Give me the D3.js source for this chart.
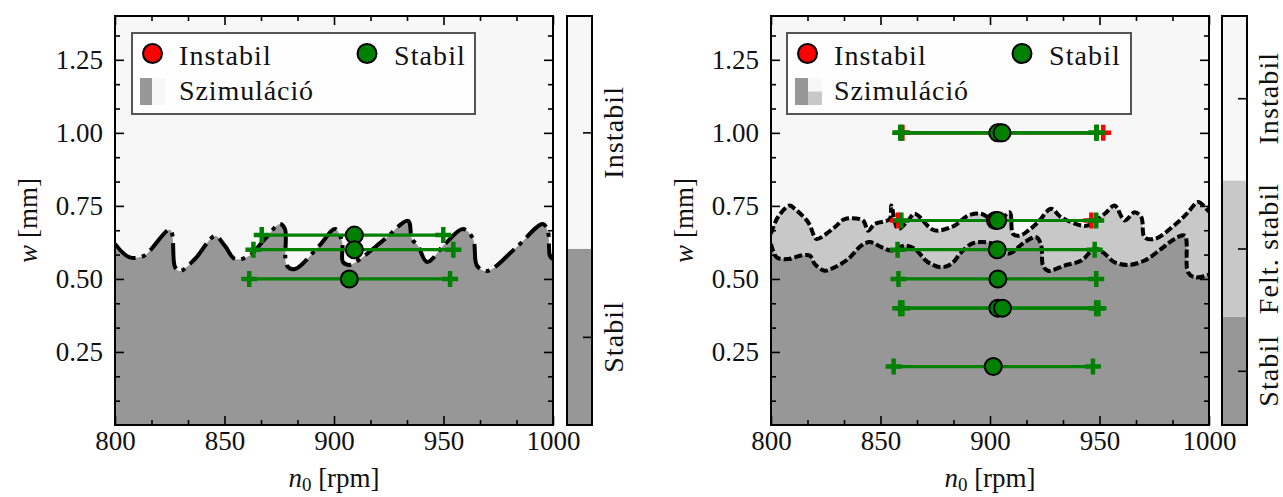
<!DOCTYPE html>
<html><head><meta charset="utf-8">
<script src="https://cdn.jsdelivr.net/npm/d3@7"></script>
<style>
body{margin:0;background:#fff}
svg text{font-family:"Liberation Serif","Tinos","Times New Roman","Noto Serif","DejaVu Serif","FreeSerif","Nimbus Roman","Times",serif;fill:#111}
</style></head>
<body><svg id="c" width="1283" height="497"></svg>
<script>
// ---------------- data ----------------
const xTicks = [800, 850, 900, 950, 1000];
const yTicks = [0.25, 0.50, 0.75, 1.00, 1.25];
const xDomain = [800, 1000];
const yDomain = [0, 1.4];

// left panel: stability boundary (rpm, w)
const leftBoundary = [[800,0.62],[806.4,0.575],[813.2,0.579],[825.1,0.668],[827.4,0.541],[829.7,0.527],[836.5,0.568],[845.7,0.647],[850.2,0.613],[854.8,0.568],[861.2,0.579],[868.5,0.637],[875.3,0.688],[877.6,0.671],[878.5,0.545],[882.2,0.534],[893.2,0.613],[900.5,0.671],[903.7,0.627],[904.1,0.558],[907.3,0.548],[911.9,0.568],[923.3,0.637],[933.8,0.699],[935.6,0.637],[938.4,0.613],[942.5,0.558],[950.7,0.620],[958.9,0.671],[963.5,0.637],[965.3,0.545],[969.9,0.527],[982.6,0.603],[995.4,0.688],[997.7,0.661],[998.6,0.579],[1000,0.568]];

// right panel: upper (instabil / felt. stabil) and lower (felt. stabil / stabil) boundaries
const rightUpper = [[800,0.655],[803.2,0.712],[808.5,0.751],[810.8,0.740],[816.9,0.695],[820.7,0.637],[823.0,0.643],[829.1,0.677],[833.7,0.705],[842.0,0.700],[844.3,0.665],[847.4,0.688],[854.2,0.705],[854.9,0.751],[858.0,0.671],[862.6,0.700],[865.6,0.723],[873.2,0.671],[876.3,0.665],[883.9,0.683],[890.0,0.717],[896.0,0.723],[901.4,0.700],[904.4,0.700],[909.0,0.728],[910.5,0.654],[913.6,0.648],[917.4,0.665],[921.9,0.694],[927.9,0.740],[932.4,0.711],[941.6,0.683],[944.7,0.683],[952.4,0.723],[956.9,0.751],[961.5,0.700],[966.1,0.728],[969.1,0.711],[970.6,0.643],[975.2,0.637],[985.8,0.694],[990.4,0.728],[995.0,0.763],[998.8,0.740],[1000,0.73]];
const rightLower = [[800,0.62],[802.6,0.574],[807.8,0.568],[813.8,0.580],[817.7,0.580],[820.0,0.551],[824.5,0.528],[829.1,0.540],[835.2,0.568],[841.2,0.614],[845.1,0.626],[850.4,0.609],[854.9,0.597],[861.1,0.614],[865.6,0.603],[871.7,0.557],[877.8,0.540],[882.3,0.551],[886.9,0.591],[891.5,0.620],[896.0,0.626],[901.4,0.620],[908.2,0.586],[915.8,0.626],[921.1,0.643],[923.4,0.614],[924.2,0.546],[926.5,0.528],[934.1,0.546],[941.7,0.563],[947.8,0.603],[951.6,0.591],[956.9,0.557],[963.0,0.548],[970.6,0.563],[978.2,0.603],[984.3,0.637],[988.9,0.648],[990.4,0.523],[993.4,0.506],[998.8,0.511],[1000,0.515]];

// measurements: [w, n_mean, n_min, n_max]
const leftStabil = [[0.65,909.3,867.0,949.9],[0.60,909.3,863.2,954.5],[0.50,907.0,861.3,953.0]];
const leftInstabil = [];
const rightStabil = [[1.00,903.5,859.0,948.5],[1.00,905.5,859.5,948.8],[0.70,903.5,859.5,948.5],[0.60,903.3,857.8,947.8],[0.50,903.6,858.2,948.5],[0.40,903.6,859.0,948.5],[0.40,905.7,860.0,949.5],[0.20,901.5,856.0,947.0]];
const rightInstabil = [[1.00,904.5,860.0,951.7],[0.70,902.5,858.0,946.3]];

// colorbars: band edges (fraction of bar height, bottom->top) and labels
const leftCbEdges = [0, 0.431, 1];
const leftCbLabels = ["Stabil", "Instabil"];
const rightCbEdges = [0, 0.265, 0.598, 1];
const rightCbLabels = ["Stabil", "Felt. stabil", "Instabil"];

const legendLabels = ["Instabil", "Stabil", "Szimuláció"];

// ---------------- style ----------------
const C = {instabil:"#f7f7f7", felt:"#c8c8c8", stabil:"#979797", green:"#008000", red:"#ff0000"};
const PT = 16, PB = 425;
const FS = 27;

const svg = d3.select("#c");

function panel(x0, x1, opts) {
  const x = d3.scaleLinear().domain(xDomain).range([x0, x1]);
  const y = d3.scaleLinear().domain(yDomain).range([PB, PT]);
  const g = svg.append("g");
  const clipId = "clip" + x0;
  svg.append("clipPath").attr("id", clipId).append("rect")
    .attr("x", x0).attr("y", PT).attr("width", x1 - x0).attr("height", PB - PT);
  const pg = g.append("g").attr("clip-path", `url(#${clipId})`);
  pg.append("rect").attr("x", x0).attr("y", PT).attr("width", x1 - x0).attr("height", PB - PT).attr("fill", C.instabil);

  const curve = d3.curveCatmullRom.alpha(0.5);
  const area = d3.area().x(d => x(d[0])).y0(y(yDomain[0]) + 5).y1(d => y(d[1])).curve(curve);
  const line = d3.line().x(d => x(d[0])).y(d => y(d[1])).curve(curve);

  opts.fills.forEach(f => pg.append("path").datum(f.data).attr("d", area).attr("fill", f.color));
  opts.lines.forEach(l => pg.append("path").datum(l.data).attr("d", line)
    .attr("fill", "none").attr("stroke", "#000").attr("stroke-width", 4)
    .attr("stroke-dasharray", l.dash));

  function drawPts(pts, color) {
    const eg = pg.append("g");
    pts.forEach(p => {
      const yy = y(p[0]);
      eg.append("line").attr("x1", x(p[2])).attr("x2", x(p[3])).attr("y1", yy).attr("y2", yy)
        .attr("stroke", color).attr("stroke-width", 3.2);
      [p[2], p[3]].forEach(v => {
        const cx = x(v), s = 8;
        eg.append("path").attr("d", `M${cx - s},${yy}H${cx + s}M${cx},${yy - s}V${yy + s}`)
          .attr("stroke", color).attr("stroke-width", 4.5).attr("fill", "none");
      });
    });
  }
  drawPts(opts.instabil, C.red);
  drawPts(opts.stabil, C.green);
  opts.instabil.forEach(p => pg.append("circle").attr("cx", x(p[1])).attr("cy", y(p[0])).attr("r", 8.5)
    .attr("fill", C.red).attr("stroke", "#000").attr("stroke-width", 2));
  opts.stabil.forEach(p => pg.append("circle").attr("cx", x(p[1])).attr("cy", y(p[0])).attr("r", 8.5)
    .attr("fill", C.green).attr("stroke", "#000").attr("stroke-width", 2));

  const xMinor = d3.range(0, 13).map(i => 800 + i * 50 / 3).filter(v => !xTicks.some(t => Math.abs(t - v) < 1e-6));
  const yMinor = d3.range(1, 17).map(i => i * 0.25 / 3).filter(v => !yTicks.some(t => Math.abs(t - v) < 1e-6));
  const ax = g.append("g").attr("class", "axes");
  const fmtY = d3.format(".2f");
  ax.append("g").attr("transform", `translate(0,${PB})`)
    .call(d3.axisBottom(x).tickValues(xTicks).tickSize(-9).tickSizeOuter(0).tickPadding(6).tickFormat(d3.format("d")));
  ax.append("g").attr("transform", `translate(0,${PB})`)
    .call(d3.axisBottom(x).tickValues(xMinor).tickSize(-5).tickSizeOuter(0).tickFormat(""));
  ax.append("g").attr("transform", `translate(0,${PT})`)
    .call(d3.axisTop(x).tickValues(xTicks).tickSize(-9).tickSizeOuter(0).tickFormat(""));
  ax.append("g").attr("transform", `translate(0,${PT})`)
    .call(d3.axisTop(x).tickValues(xMinor).tickSize(-5).tickSizeOuter(0).tickFormat(""));
  ax.append("g").attr("transform", `translate(${x0},0)`)
    .call(d3.axisLeft(y).tickValues(yTicks).tickSize(-9).tickSizeOuter(0).tickPadding(12).tickFormat(fmtY));
  ax.append("g").attr("transform", `translate(${x0},0)`)
    .call(d3.axisLeft(y).tickValues(yMinor).tickSize(-5).tickSizeOuter(0).tickFormat(""));
  ax.append("g").attr("transform", `translate(${x1},0)`)
    .call(d3.axisRight(y).tickValues(yTicks).tickSize(-9).tickSizeOuter(0).tickFormat(""));
  ax.append("g").attr("transform", `translate(${x1},0)`)
    .call(d3.axisRight(y).tickValues(yMinor).tickSize(-5).tickSizeOuter(0).tickFormat(""));
  ax.selectAll(".domain").remove();
  ax.selectAll("g").attr("font-family", null).attr("font-size", null);
  ax.selectAll(".tick line").attr("stroke", "#000").attr("stroke-width", 1.6);
  ax.selectAll(".tick text").attr("font-size", FS).attr("fill", "#111");
  g.append("rect").attr("x", x0).attr("y", PT).attr("width", x1 - x0).attr("height", PB - PT)
    .attr("fill", "none").attr("stroke", "#000").attr("stroke-width", 2);

  const xl = g.append("text").attr("x", (x0 + x1) / 2).attr("y", 487).attr("text-anchor", "middle").attr("font-size", FS);
  xl.append("tspan").attr("font-style", "italic").text("n");
  xl.append("tspan").attr("font-size", 19).attr("dy", 4).text("0");
  xl.append("tspan").attr("dy", -4).text(" [rpm]");
  const yl = g.append("text").attr("transform", `translate(${x0 - 78},${(PT + PB) / 2}) rotate(-90)`)
    .attr("text-anchor", "middle").attr("font-size", FS);
  yl.append("tspan").attr("font-style", "italic").text("w");
  yl.append("tspan").text(" [mm]");

  const L = opts.legend;
  const lg = g.append("g");
  lg.append("rect").attr("x", L.x).attr("y", 33).attr("width", L.w).attr("height", 81)
    .attr("fill", "#fff").attr("fill-opacity", 0.85).attr("stroke", "#555").attr("stroke-width", 2);
  lg.append("circle").attr("cx", L.x + 20.5).attr("cy", 53.5).attr("r", 9.5).attr("fill", C.red).attr("stroke", "#000").attr("stroke-width", 2);
  lg.append("text").attr("x", L.x + 47).attr("y", 65).attr("font-size", 28).attr("letter-spacing", 1.1).text(legendLabels[0]);
  lg.append("circle").attr("cx", L.x + L.gx).attr("cy", 53.5).attr("r", 9.5).attr("fill", C.green).attr("stroke", "#000").attr("stroke-width", 2);
  lg.append("text").attr("x", L.x + L.gx + 27).attr("y", 65).attr("font-size", 28).attr("letter-spacing", 1.1).text(legendLabels[1]);
  L.swatch(lg, L.x + 8, 78);
  lg.append("text").attr("x", L.x + 47).attr("y", 100).attr("font-size", 28).attr("letter-spacing", 0.9).text(legendLabels[2]);
}

function colorbar(cx0, edges, labels, colors, labelX) {
  const w = 25;
  const s = d3.scaleLinear().domain([0, 1]).range([PB, PT]);
  const g = svg.append("g");
  for (let i = 0; i < labels.length; i++) {
    g.append("rect").attr("x", cx0).attr("y", s(edges[i + 1])).attr("width", w)
      .attr("height", s(edges[i]) - s(edges[i + 1])).attr("fill", colors[i]);
  }
  const mids = labels.map((l, i) => (edges[i] + edges[i + 1]) / 2);
  const ax = g.append("g").attr("transform", `translate(${cx0 + w},0)`)
    .call(d3.axisRight(s).tickValues(mids).tickSize(-9).tickSizeOuter(0).tickFormat(""));
  ax.select(".domain").remove();
  ax.selectAll(".tick line").attr("stroke", "#000").attr("stroke-width", 1.6);
  g.append("rect").attr("x", cx0).attr("y", PT).attr("width", w).attr("height", PB - PT)
    .attr("fill", "none").attr("stroke", "#000").attr("stroke-width", 2);
  labels.forEach((l, i) => {
    g.append("text").attr("transform", `translate(${labelX},${s(mids[i])}) rotate(-90)`)
      .attr("text-anchor", "middle").attr("font-size", 28).attr("letter-spacing", 1.1).text(l);
  });
}

panel(115, 553, {
  fills: [{data: leftBoundary, color: C.stabil}],
  lines: [{data: leftBoundary, dash: "26,6.5,4,6.5"}],
  stabil: leftStabil, instabil: leftInstabil,
  legend: {x: 132, w: 343, gx: 235, swatch: (g, x, y) => {
    g.append("rect").attr("x", x).attr("y", y).attr("width", 12).attr("height", 27).attr("fill", C.stabil);
    g.append("rect").attr("x", x + 12).attr("y", y).attr("width", 13).attr("height", 27).attr("fill", C.instabil);
  }}
});
panel(771, 1209, {
  fills: [{data: rightUpper, color: C.felt}, {data: rightLower, color: C.stabil}],
  lines: [{data: rightUpper, dash: "8,3"}, {data: rightLower, dash: "8,3"}],
  stabil: rightStabil, instabil: rightInstabil,
  legend: {x: 787, w: 344, gx: 235, swatch: (g, x, y) => {
    g.append("rect").attr("x", x).attr("y", y).attr("width", 13).attr("height", 27).attr("fill", C.stabil);
    g.append("rect").attr("x", x + 13).attr("y", y).attr("width", 14).attr("height", 13.5).attr("fill", C.instabil);
    g.append("rect").attr("x", x + 13).attr("y", y + 13.5).attr("width", 14).attr("height", 13.5).attr("fill", C.felt);
  }}
});
colorbar(567, leftCbEdges, leftCbLabels, [C.stabil, C.instabil], 623);
colorbar(1222, rightCbEdges, rightCbLabels, [C.stabil, C.felt, C.instabil], 1278);
</script></body></html>
